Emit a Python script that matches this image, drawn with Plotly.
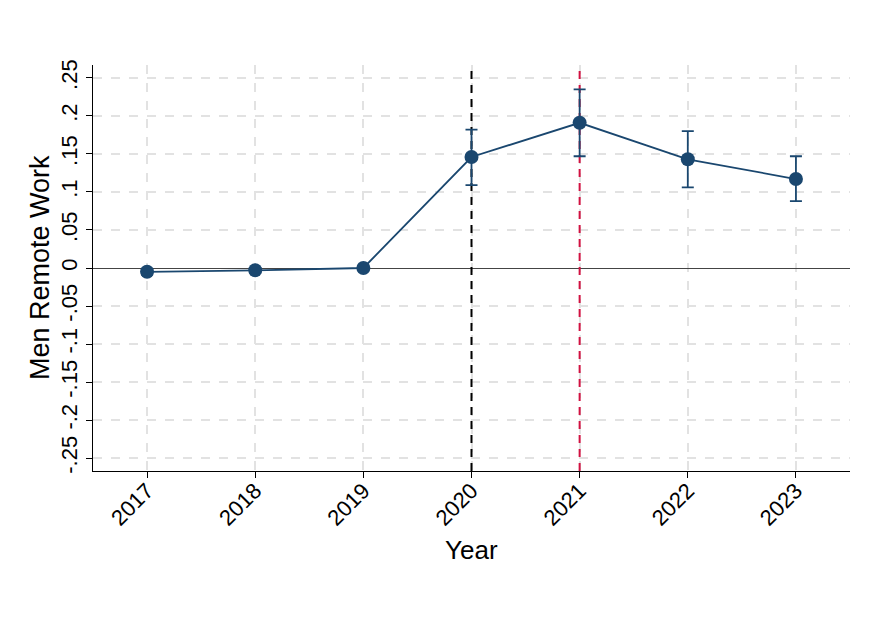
import plotly.graph_objects as go

years = [2017, 2018, 2019, 2020, 2021, 2022, 2023]
coef = [-0.005, -0.003, 0.0, 0.146, 0.191, 0.143, 0.117]
ci_hi = [-0.001, 0.000, 0.0, 0.182, 0.235, 0.180, 0.147]
ci_lo = [-0.009, -0.006, 0.0, 0.109, 0.147, 0.106, 0.088]
ytick_vals = [-0.25, -0.2, -0.15, -0.1, -0.05, 0, 0.05, 0.1, 0.15, 0.2, 0.25]
ytick_text = ["-.25", "-.2", "-.15", "-.1", "-.05", "0", ".05", ".1", ".15", ".2", ".25"]
y_range = [-0.267, 0.267]
vline_years = [2020, 2021]
vline_colors = ["black", "#d11141"]

navy = "#1a476f"
err_plus = [h - c for h, c in zip(ci_hi, coef)]
err_minus = [c - l for c, l in zip(coef, ci_lo)]

fig = go.Figure()
for yr, col in zip(vline_years, vline_colors):
    fig.add_trace(go.Scatter(
        x=[yr, yr], y=y_range, mode="lines",
        line=dict(color=col, width=2, dash="8px,6px"),
        hoverinfo="skip", showlegend=False,
    ))

fig.add_trace(go.Scatter(
    x=years, y=coef, mode="lines+markers",
    line=dict(color=navy, width=1.8),
    marker=dict(color=navy, size=14),
    error_y=dict(type="data", symmetric=False, array=err_plus, arrayminus=err_minus,
                 color=navy, thickness=1.8, width=6),
    showlegend=False,
))

font = "Arial, Liberation Sans, sans-serif"
fig.update_layout(
    width=874, height=636,
    margin=dict(l=85, r=32, t=57, b=173),
    plot_bgcolor="white", paper_bgcolor="white",
    font=dict(family=font, color="black"),
    xaxis=dict(
        range=[2016.5, 2023.5], tickvals=years, ticktext=[str(y) for y in years],
        tickangle=-45, ticks="outside", ticklen=6, tickcolor="black",
        ticklabelstandoff=-9,
        showline=True, linecolor="black", linewidth=1.2,
        showgrid=True, gridcolor="#e2e2e2", gridwidth=2, griddash="dash",
        tickfont=dict(size=22), zeroline=False, automargin=False,
    ),
    yaxis=dict(
        range=y_range, tickvals=ytick_vals, ticktext=ytick_text,
        tickangle=-90, ticks="outside", ticklen=6, tickcolor="black",
        showline=True, linecolor="black", linewidth=1.2,
        showgrid=True, gridcolor="#e2e2e2", gridwidth=2, griddash="dash",
        zeroline=True, zerolinecolor="#444444", zerolinewidth=1.3,
        tickfont=dict(size=22), automargin=False,
    ),
    annotations=[
        dict(text="Year", xref="paper", yref="paper", x=0.5, y=0,
             xanchor="center", yanchor="middle", yshift=-79,
             showarrow=False, font=dict(size=26)),
        dict(text="Men Remote Work", xref="paper", yref="paper", x=0, y=0.5,
             xanchor="center", yanchor="middle", xshift=-53, textangle=-90,
             showarrow=False, font=dict(size=27)),
    ],
)

fig.write_html("out.html")
